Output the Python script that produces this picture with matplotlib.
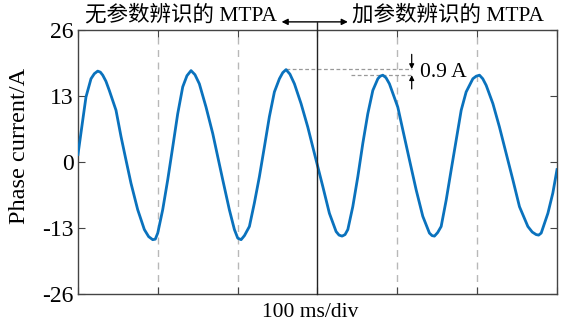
import matplotlib
matplotlib.use("Agg")
import matplotlib.pyplot as plt

# ---- data ----
time_ms = [0, 5.9, 10.0, 16.3, 20.5, 24.7, 28.0, 31.0, 35.0, 39.2, 47.6, 53.9, 60.1, 66.4, 74.8,
           83.1, 88.5, 93.6, 96.8, 99.9,
           106.1, 112.4, 118.7, 124.9, 131.2, 136.5, 141.6, 146.5, 152.0, 160.4, 168.8, 175.1,
           181.3, 189.6, 195.9, 200.1, 204.3, 208.5, 214.7, 220.9, 227.2, 233.5, 239.7, 246.0,
           252.3, 256.5, 260.6, 265.5, 271.1,
           279.4, 287.8, 298.2, 306.6, 314.9, 323.3, 327.0, 330.8, 334.5, 338.0, 344.2, 350.5,
           356.8, 363.0, 369.3, 375.6, 378.5, 381.8, 385.8, 390.1, 400.6, 406.9, 415.2, 423.6,
           431.9, 440.2, 443.5, 446.5, 450.5, 454.9,
           461.2, 467.4, 473.7, 480.0, 486.2, 494.6, 498.8, 502.9, 507.0, 511.3, 519.7, 527.9,
           536.3, 544.7, 553.0, 563.5, 569.0, 573.9, 577.0, 580.2, 588.6, 594.8, 600]
current_A = [1.5, 8.2, 12.8, 16.4, 17.4, 17.9, 17.7, 17.1, 15.9, 14.1, 10.2, 5.0, 0.4, -4.2, -9.4,
             -13.3, -14.7, -15.3, -15.2, -14.0,
             -9.4, -3.5, 3.0, 9.5, 14.8, 17.0, 18.0, 17.2, 15.4, 10.8, 5.6, 1.0,
             -3.5, -9.4, -13.3, -15.0, -15.3, -14.5, -12.7, -8.1, -2.9, 3.0, 8.9, 13.8,
             16.4, 17.6, 18.2, 17.3, 15.4,
             11.5, 6.9, 0.4, -4.8, -10.1, -13.7, -14.4, -14.6, -14.3, -13.3, -8.8, -2.9,
             3.7, 9.5, 14.1, 16.4, 16.9, 17.1, 16.6, 15.4, 10.8, 6.3, 0.4, -5.5,
             -10.7, -14.0, -14.5, -14.6, -13.9, -12.7,
             -7.5, -1.6, 4.3, 10.2, 13.8, 16.4, 16.9, 17.1, 16.4, 15.1, 11.5, 6.9,
             1.7, -3.5, -8.8, -12.7, -13.8, -14.3, -14.4, -14.0, -10.1, -6.1, -1.5]
y_ticks = [-26, -13, 0, 13, 26]
x_divs = [0, 100, 200, 300, 400, 500, 600]
grid_divs = [100, 200, 400, 500]
switch_ms = 300
label_left = "无参数辨识的 MTPA"
label_right = "加参数辨识的 MTPA"
peak_before = 18.3
peak_after = 17.1
diff_label = "0.9 A"

plt.rcParams['font.family'] = ['Liberation Serif', 'Noto Sans CJK SC', 'DejaVu Sans']
plt.rcParams['font.size'] = 15

fig = plt.figure(figsize=(5.66, 3.25), dpi=100)
ax = fig.add_axes([0.1378, 0.0954, 0.8463, 0.8123])

for g in grid_divs:
    ax.axvline(g, color='#b8b8b8', lw=1.0, ls=(0, (5, 4)), zorder=1)

ax.plot(time_ms, current_A, color='#0a72bd', lw=2.0, zorder=3)

ax.set_xlim(0, 600)
ax.set_ylim(-26, 26)
ax.set_yticks(y_ticks)
ax.set_yticklabels([str(v) for v in y_ticks])
ax.set_xticks(x_divs)
ax.set_xticklabels([])
ax.tick_params(direction='in', length=5, width=0.8, color='#444444',
               top=True, right=True, labelsize=17, pad=3)
for s in ax.spines.values():
    s.set_color('#444444')
    s.set_linewidth(1.0)

ax.set_ylabel("Phase current/A", fontsize=17.5)
ax.yaxis.set_label_coords(-0.10, 0.56)
ax.set_xlabel("100 ms/div", fontsize=15.5)
ax.xaxis.set_label_coords(0.485, -0.035)
ax.xaxis.label.set_va('top')

# divider line extending above the axes
y_arrow = 27.6
ax.plot([switch_ms, switch_ms], [-26, y_arrow], color='#222222', lw=1.0, clip_on=False, zorder=4)
ax.annotate('', xy=(255, y_arrow), xytext=(338, y_arrow), xycoords='data',
            arrowprops=dict(arrowstyle='<|-|>', color='black', lw=1.0, mutation_scale=9,
                            shrinkA=0, shrinkB=0), annotation_clip=False)
ax.text(129, 28.9, label_left, ha='center', va='center', fontsize=15.5, clip_on=False)
ax.text(464, 28.9, label_right, ha='center', va='center', fontsize=15.5, clip_on=False)

# peak difference annotation
x_ann = 418
ax.plot([260, x_ann], [peak_before, peak_before], color='#999999', lw=0.9, ls=(0, (3, 2)), zorder=2)
ax.plot([342, x_ann], [peak_after, peak_after], color='#999999', lw=0.9, ls=(0, (3, 2)), zorder=2)
ax.annotate('', xy=(x_ann, peak_before), xytext=(x_ann, 21.2),
            arrowprops=dict(arrowstyle='-|>', color='black', lw=0.9, mutation_scale=7,
                            shrinkA=0, shrinkB=0))
ax.annotate('', xy=(x_ann, peak_after), xytext=(x_ann, 14.4),
            arrowprops=dict(arrowstyle='-|>', color='black', lw=0.9, mutation_scale=7,
                            shrinkA=0, shrinkB=0))
ax.text(428, (peak_before + peak_after) / 2, diff_label, ha='left', va='center', fontsize=15.5)

fig.savefig("out.png", dpi=100)
